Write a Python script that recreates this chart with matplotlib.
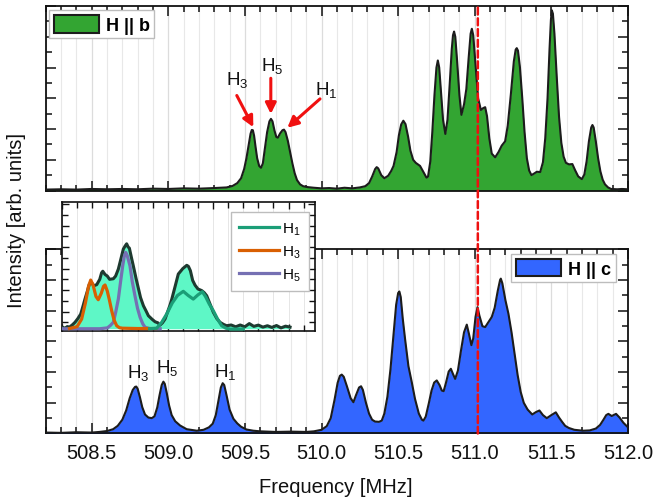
import matplotlib
matplotlib.use("Agg")
import matplotlib.pyplot as plt
from matplotlib.patches import Patch, ConnectionPatch
from matplotlib.lines import Line2D
from matplotlib.ticker import MultipleLocator, NullFormatter

plt.rcParams['font.family'] = ['Liberation Sans', 'DejaVu Sans']
plt.rcParams['mathtext.fontset'] = 'custom'
plt.rcParams['mathtext.rm'] = 'Liberation Sans'
plt.rcParams['mathtext.it'] = 'Liberation Sans:italic'
plt.rcParams['mathtext.bf'] = 'Liberation Sans:bold'
plt.rcParams['mathtext.default'] = 'regular'

# ---------------- data: H || b spectrum ----------------
freq_b = [508.20, 508.30, 508.40, 508.50, 508.60, 508.70, 508.80, 508.90, 509.00, 509.10,
          509.20, 509.30, 509.38, 509.42, 509.45, 509.475, 509.495, 509.51, 509.525, 509.537,
          509.545, 509.552, 509.56, 509.57, 509.58, 509.593, 509.605, 509.617, 509.63, 509.645,
          509.66, 509.67, 509.68, 509.693, 509.705, 509.715, 509.73, 509.745, 509.755, 509.765,
          509.78, 509.795, 509.81, 509.825, 509.84, 509.86, 509.88, 509.91, 509.95, 510.00,
          510.05, 510.10, 510.15, 510.20, 510.25, 510.285, 510.31, 510.33, 510.35, 510.36,
          510.37, 510.39, 510.41, 510.435, 510.455, 510.47, 510.49, 510.505, 510.52, 510.534,
          510.548, 510.565, 510.58, 510.598, 510.615, 510.643, 510.665, 510.685, 510.695, 510.71,
          510.723, 510.737, 510.75, 510.759, 510.768, 510.78, 510.793, 510.808, 510.822, 510.837,
          510.85, 510.858, 510.865, 510.873, 510.885, 510.90, 510.913, 510.93, 510.945, 510.96,
          510.973, 510.981, 510.99, 511.005, 511.022, 511.04, 511.055, 511.068, 511.08, 511.095,
          511.111, 511.133, 511.155, 511.176, 511.198, 511.215, 511.235, 511.255, 511.267, 511.274,
          511.282, 511.295, 511.31, 511.325, 511.34, 511.355, 511.37, 511.39, 511.405, 511.427,
          511.445, 511.46, 511.475, 511.488, 511.497, 511.503, 511.51, 511.52, 511.535, 511.55,
          511.565, 511.58, 511.595, 511.615, 511.637, 511.655, 511.675, 511.699, 511.715, 511.73,
          511.745, 511.76, 511.768, 511.776, 511.79, 511.805, 511.82, 511.835, 511.85, 511.87,
          511.89, 511.93, 511.96, 512.00]
int_b = [0.03, 0.04, 0.03, 0.05, 0.04, 0.05, 0.04, 0.06, 0.05, 0.07,
         0.06, 0.08, 0.10, 0.15, 0.24, 0.40, 0.70, 1.05, 1.50, 1.85,
         1.97, 1.96, 1.78, 1.40, 1.05, 0.80, 0.74, 0.88, 1.35, 1.90,
         2.25, 2.33, 2.25, 1.95, 1.74, 1.72, 1.86, 1.96, 1.98, 1.90,
         1.62, 1.25, 0.88, 0.56, 0.34, 0.20, 0.14, 0.11, 0.09, 0.07,
         0.08, 0.06, 0.09, 0.07, 0.10, 0.14, 0.24, 0.45, 0.70, 0.76,
         0.72, 0.50, 0.40, 0.48, 0.64, 0.80, 1.25, 1.80, 2.15, 2.27,
         2.16, 1.75, 1.30, 1.00, 0.90, 0.80, 0.60, 0.42, 0.45, 0.95,
         1.90, 3.10, 4.00, 4.23, 4.00, 3.20, 2.30, 1.84, 2.30, 3.50,
         4.60, 5.05, 5.17, 5.00, 4.20, 3.10, 2.46, 2.80, 3.30, 4.30,
         5.10, 5.26, 5.05, 4.10, 3.00, 2.62, 2.68, 2.71, 2.42, 1.70,
         1.20, 1.08, 1.25, 1.46, 1.60, 2.10, 3.10, 4.20, 4.58, 4.63,
         4.55, 4.00, 3.00, 1.90, 1.05, 0.65, 0.50, 0.56, 0.61, 0.60,
         0.92, 1.70, 3.00, 4.60, 5.55, 5.86, 5.75, 5.10, 3.70, 2.40,
         1.55, 1.10, 0.90, 0.85, 0.86, 0.66, 0.46, 0.37, 0.52, 0.95,
         1.60, 2.05, 2.13, 2.05, 1.60, 1.05, 0.62, 0.35, 0.20, 0.10,
         0.05, 0.04, 0.05, 0.04]

# ---------------- data: H || c spectrum ----------------
freq_c = [508.20, 508.30, 508.40, 508.50, 508.55, 508.60, 508.64, 508.67, 508.70, 508.725,
          508.748, 508.768, 508.783, 508.791, 508.80, 508.815, 508.83, 508.848, 508.87, 508.892,
          508.91, 508.928, 508.943, 508.957, 508.968, 508.977, 508.99, 509.005, 509.022, 509.045,
          509.077, 509.12, 509.186, 509.23, 509.265, 509.29, 509.31, 509.328, 509.343, 509.355,
          509.365, 509.38, 509.40, 509.425, 509.45, 509.475, 509.51, 509.555, 509.60, 509.70,
          509.80, 509.90, 509.95, 510.00, 510.034, 510.06, 510.085, 510.105, 510.12, 510.132,
          510.145, 510.165, 510.19, 510.208, 510.225, 510.245, 510.258, 510.27, 510.29, 510.31,
          510.33, 510.349, 510.375, 510.393, 510.41, 510.43, 510.45, 510.469, 510.487, 510.50,
          510.508, 510.517, 510.53, 510.545, 510.567, 510.589, 510.61, 510.635, 510.655, 510.665,
          510.68, 510.70, 510.718, 510.735, 510.752, 510.77, 510.785, 510.797, 510.812, 510.83,
          510.844, 510.858, 510.872, 510.89, 510.91, 510.93, 510.948, 510.962, 510.978, 510.99,
          511.005, 511.018, 511.03, 511.05, 511.068, 511.09, 511.111, 511.13, 511.15, 511.165,
          511.17, 511.18, 511.20, 511.22, 511.24, 511.26, 511.28, 511.30, 511.32, 511.345,
          511.375, 511.40, 511.422, 511.445, 511.47, 511.50, 511.529, 511.55, 511.57, 511.59,
          511.614, 511.65, 511.707, 511.75, 511.79, 511.818, 511.84, 511.858, 511.872, 511.894,
          511.91, 511.922, 511.945, 511.97, 512.00]
int_c = [0.03, 0.02, 0.04, 0.03, 0.05, 0.08, 0.14, 0.25, 0.45, 0.75,
         1.15, 1.42, 1.52, 1.53, 1.46, 1.18, 0.86, 0.62, 0.52, 0.50,
         0.56, 0.85, 1.25, 1.58, 1.69, 1.62, 1.32, 0.92, 0.60, 0.40,
         0.26, 0.14, 0.09, 0.12, 0.20, 0.32, 0.60, 1.10, 1.50, 1.64,
         1.58, 1.25, 0.78, 0.48, 0.33, 0.22, 0.13, 0.09, 0.07, 0.05,
         0.06, 0.05, 0.07, 0.12, 0.24, 0.50, 1.10, 1.65, 1.88, 1.92,
         1.85, 1.55, 1.15, 1.02, 1.25, 1.50, 1.54, 1.42, 1.00, 0.65,
         0.45, 0.39, 0.38, 0.42, 0.65, 1.20, 2.10, 3.20, 4.20, 4.58,
         4.63, 4.45, 3.75, 3.09, 2.20, 1.67, 1.13, 0.65, 0.45, 0.42,
         0.55, 0.98, 1.40, 1.66, 1.73, 1.58, 1.40, 1.38, 1.65, 2.02,
         2.11, 1.94, 1.78, 2.05, 2.70, 3.30, 3.55, 3.25, 2.88, 3.10,
         3.80, 4.12, 3.85, 3.50, 3.47, 3.64, 3.80, 4.10, 4.65, 5.00,
         5.05, 4.90, 4.35, 3.90, 3.30, 2.60, 1.90, 1.35, 1.00, 0.78,
         0.62, 0.70, 0.75, 0.60, 0.50, 0.60, 0.69, 0.52, 0.38, 0.25,
         0.18, 0.12, 0.09, 0.10, 0.16, 0.28, 0.45, 0.60, 0.64, 0.57,
         0.61, 0.64, 0.52, 0.35, 0.20]

# ---------------- data: inset (measured spectrum + fits) ----------------
inset_x = [0.00, 0.02, 0.035, 0.05, 0.07, 0.086, 0.105, 0.124, 0.14, 0.152,
           0.168, 0.181, 0.195, 0.21, 0.23, 0.25, 0.262, 0.27, 0.285, 0.30,
           0.315, 0.34, 0.355, 0.373, 0.39, 0.406, 0.418, 0.428, 0.438, 0.446,
           0.46, 0.472, 0.49, 0.505, 0.52, 0.539, 0.555, 0.572, 0.595, 0.616,
           0.635, 0.649, 0.665, 0.682, 0.70, 0.715, 0.727, 0.75, 0.77, 0.80,
           0.826, 0.837, 0.85, 0.865, 0.881, 0.90, 0.925, 0.942, 0.958, 0.98,
           1.002, 1.025, 1.046, 1.07, 1.09, 1.12, 1.15, 1.18, 1.21, 1.24,
           1.27, 1.30, 1.33, 1.36, 1.39, 1.42, 1.45, 1.48, 1.51]
inset_y = [0.55, 0.45, 0.60, 0.55, 0.78, 1.00, 1.35, 1.77, 2.55, 3.16,
           3.90, 4.56, 4.70, 4.40, 4.50, 5.00, 5.60, 5.75, 5.45, 5.30,
           5.00, 5.05, 5.30, 5.95, 6.90, 7.81, 8.10, 8.30, 8.00, 7.90,
           7.00, 6.26, 5.10, 4.20, 3.30, 2.54, 2.10, 1.61, 1.30, 1.05,
           0.95, 0.74, 0.95, 1.30, 2.00, 2.60, 3.16, 4.40, 5.49, 6.00,
           6.30, 6.20, 5.80, 4.90, 4.45, 4.10, 3.95, 3.75, 3.47, 2.70,
           1.93, 1.35, 1.00, 0.80, 0.68, 0.75, 0.58, 0.75, 0.58, 0.88,
           0.62, 0.74, 0.55, 0.68, 0.52, 0.70, 0.48, 0.64, 0.55]

fit_h3_x = [0.05, 0.10, 0.13, 0.155, 0.175, 0.19, 0.205, 0.225, 0.24, 0.26,
            0.275, 0.285, 0.30, 0.315, 0.329, 0.345, 0.362, 0.38, 0.40, 0.50, 0.62]
fit_h3_y = [0.42, 0.60, 1.30, 2.80, 4.30, 4.93, 4.50, 3.40, 3.10, 3.70,
            4.35, 4.47, 3.90, 3.00, 2.07, 1.20, 0.68, 0.50, 0.45, 0.42, 0.42]

fit_h5_x = [0.00, 0.25, 0.30, 0.32, 0.34, 0.355, 0.373, 0.388, 0.402, 0.412,
            0.422, 0.432, 0.45, 0.465, 0.483, 0.50, 0.517, 0.535, 0.55, 0.58, 0.65]
fit_h5_y = [0.40, 0.40, 0.48, 0.70, 1.00, 1.90, 3.16, 4.80, 6.26, 7.10,
            7.50, 7.20, 6.26, 4.80, 3.47, 2.30, 1.46, 0.85, 0.53, 0.42, 0.40]

fit_h1_x = [0.58, 0.627, 0.66, 0.693, 0.73, 0.765, 0.803, 0.835, 0.869, 0.90,
            0.929, 0.95, 0.975, 1.002, 1.03, 1.057, 1.085, 1.113, 1.20]
fit_h1_y = [0.40, 0.45, 1.00, 1.77, 2.80, 3.50, 3.88, 3.50, 3.16, 3.55,
            3.84, 3.40, 2.70, 2.07, 1.30, 0.68, 0.45, 0.37, 0.37]

# annotations
labels_b = ['H$_3$', 'H$_5$', 'H$_1$']
label_pos_b = [(509.447, 3.63), (509.675, 4.07), (510.034, 3.31)]
arrow_tail_b = [(509.447, 3.09), (509.669, 3.65), (509.99, 2.98)]
arrow_head_b = [(509.555, 2.06), (509.669, 2.49), (509.777, 2.04)]
labels_c = ['H$_3$', 'H$_5$', 'H$_1$']
label_pos_c = [(508.804, 2.0), (508.99, 2.16), (509.37, 2.05)]
marker_freq = 511.02
xticks = [508.5, 509.0, 509.5, 510.0, 510.5, 511.0, 511.5, 512.0]
xticklabels = ['508.5', '509.0', '509.5', '510.0', '510.5', '511.0', '511.5', '512.0']

GREEN = '#33a532'
BLUE = '#3366ff'
LINE = '#1c1c1c'
AQUA = '#5ef7c6'
C_H1, C_H3, C_H5 = '#1b9e77', '#d95f02', '#7570b3'

fig = plt.figure(figsize=(6.53, 5.02), dpi=100)
ax_b = fig.add_axes([0.070, 0.6185, 0.8917, 0.3675])
ax_c = fig.add_axes([0.070, 0.1345, 0.8917, 0.3665])
ax_in = fig.add_axes([62/653, 1-332/502, 253/653, 129/502])
ax_in.set_zorder(5)


def style_main(ax):
    ax.set_xlim(508.2, 512.0)
    ax.set_ylim(0, 6.0)
    ax.xaxis.set_major_locator(MultipleLocator(0.5))
    ax.xaxis.set_minor_locator(MultipleLocator(0.1))
    ax.yaxis.set_major_locator(MultipleLocator(1.0))
    ax.yaxis.set_minor_locator(MultipleLocator(0.5))
    ax.tick_params(which='both', direction='in', top=True, right=True, width=1.1, colors='#111111')
    ax.tick_params(which='major', length=7)
    ax.tick_params(which='minor', length=4)
    ax.yaxis.set_major_formatter(NullFormatter())
    ax.grid(which='minor', axis='x', color='#e8e8e8', lw=0.8)
    ax.grid(which='major', axis='x', color='#dcdcdc', lw=0.9)
    ax.set_axisbelow(True)
    for s in ax.spines.values():
        s.set_linewidth(1.3)
        s.set_color('#111111')


style_main(ax_b)
style_main(ax_c)
ax_b.xaxis.set_major_formatter(NullFormatter())
ax_c.set_xticks(xticks)
ax_c.set_xticklabels(xticklabels)
ax_c.tick_params(axis='x', which='major', labelsize=14.5, pad=7, labelcolor='#111111')

# spectra
ax_b.fill_between(freq_b, 0, int_b, color=GREEN, lw=0, zorder=2)
ax_b.plot(freq_b, int_b, color=LINE, lw=1.5, zorder=3)
ax_c.fill_between(freq_c, 0, int_c, color=BLUE, lw=0, zorder=2)
ax_c.plot(freq_c, int_c, color=LINE, lw=1.5, zorder=3)

# annotations top
for lab, pos, tail, head in zip(labels_b, label_pos_b, arrow_tail_b, arrow_head_b):
    ax_b.text(pos[0], pos[1], lab, fontsize=13.5, ha='center', va='center', color='#111111', zorder=6)
    ax_b.annotate('', xy=head, xytext=tail,
                  arrowprops=dict(arrowstyle='-|>', color='#f01010', lw=2.2,
                                  mutation_scale=16, shrinkA=0, shrinkB=0), zorder=6)
for lab, pos in zip(labels_c, label_pos_c):
    ax_c.text(pos[0], pos[1], lab, fontsize=13.5, ha='center', va='center', color='#111111', zorder=6)

# legends
leg_b = ax_b.legend([Patch(facecolor=GREEN, edgecolor=LINE, lw=1.5)], ['H || b'],
                    loc='upper left', bbox_to_anchor=(0.0057, 0.978), borderaxespad=0,
                    prop={'weight': 'bold', 'size': 13}, handlelength=2.5, handleheight=1.15,
                    handletextpad=0.4, borderpad=0.25, fancybox=False, framealpha=1,
                    edgecolor='#bdbdbd')
leg_b.get_frame().set_linewidth(1.0)
leg_c = ax_c.legend([Patch(facecolor=BLUE, edgecolor=LINE, lw=1.5)], ['H || c'],
                    loc='upper right', bbox_to_anchor=(0.979, 0.9755), borderaxespad=0,
                    prop={'weight': 'bold', 'size': 13}, handlelength=2.5, handleheight=1.15,
                    handletextpad=0.4, borderpad=0.25, fancybox=False, framealpha=1,
                    edgecolor='#bdbdbd')
leg_c.get_frame().set_linewidth(1.0)

# inset
ax_in.set_facecolor('white')
ax_in.set_xlim(0, 1.675)
ax_in.set_ylim(0.19, 12.19)
ax_in.xaxis.set_major_locator(MultipleLocator(0.5))
ax_in.xaxis.set_minor_locator(MultipleLocator(0.1))
ax_in.yaxis.set_major_locator(MultipleLocator(2))
ax_in.yaxis.set_minor_locator(MultipleLocator(1))
ax_in.xaxis.set_major_formatter(NullFormatter())
ax_in.yaxis.set_major_formatter(NullFormatter())
ax_in.tick_params(which='both', direction='in', top=True, right=True, width=1.0, colors='#111111')
ax_in.tick_params(which='major', length=5)
ax_in.tick_params(which='minor', length=4)
ax_in.grid(which='both', axis='x', color='#e6e6e6', lw=0.7)
ax_in.set_axisbelow(True)
for s in ax_in.spines.values():
    s.set_linewidth(1.2)
    s.set_color('#111111')
ax_in.fill_between(inset_x, 0.4, inset_y, color=AQUA, lw=0, zorder=2)
ax_in.plot(inset_x, inset_y, color='#1e3a30', lw=2.2, zorder=3)
ax_in.plot(fit_h5_x, fit_h5_y, color=C_H5, lw=2.3, zorder=4)
ax_in.plot(fit_h3_x, fit_h3_y, color=C_H3, lw=2.3, zorder=4)
ax_in.plot(fit_h1_x, fit_h1_y, color=C_H1, lw=2.3, zorder=4)
leg_in = ax_in.legend([Line2D([], [], color=C_H1, lw=2.3), Line2D([], [], color=C_H3, lw=2.3),
                       Line2D([], [], color=C_H5, lw=2.3)],
                      ['H$_1$', 'H$_3$', 'H$_5$'], loc='upper right',
                      bbox_to_anchor=(0.977, 0.92), borderaxespad=0, fontsize=11,
                      handlelength=2.6, handletextpad=0.2, labelspacing=0.42, borderpad=0.55,
                      fancybox=False, framealpha=1, edgecolor='#bdbdbd')
leg_in.get_frame().set_linewidth(1.0)

# red dashed marker line across both panels
con = ConnectionPatch(xyA=(marker_freq, 5.95), coordsA=ax_b.transData,
                      xyB=(marker_freq, 0.0), coordsB=ax_c.transData,
                      color='#ee1111', lw=1.8, linestyle=(0, (2.8, 1.5)), zorder=10)
fig.add_artist(con)

fig.text(17/653, 1-220/502, 'Intensity [arb. units]', rotation=90, ha='center', va='center',
         fontsize=14.5, color='#111111')
fig.text(336/653, 1-488/502, 'Frequency [MHz]', ha='center', va='center', fontsize=14.5,
         color='#111111')

fig.savefig('out.png', dpi=100)
